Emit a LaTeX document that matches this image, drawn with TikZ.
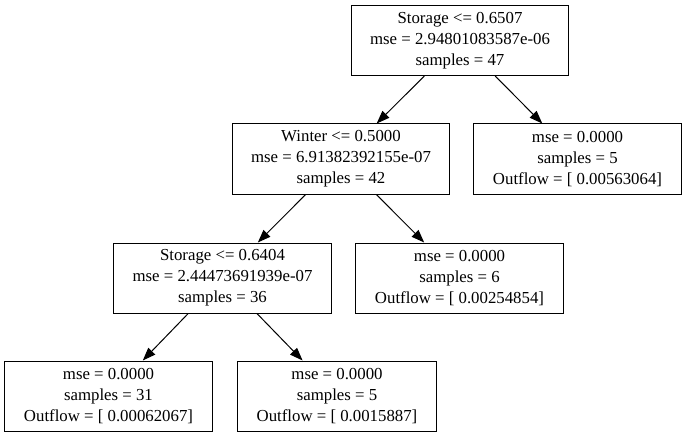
\documentclass[tikz,border=0pt]{standalone}
\usepackage{fontspec}
\setmainfont{Liberation Serif}
\usetikzlibrary{positioning, arrows.meta}

\begin{document}
\begin{tikzpicture}[x=1pt,y=1pt,on grid,line width=1pt,
  >={Triangle[length=13pt,width=9.5pt]},
  box/.style={draw,rectangle,align=center,inner xsep=19pt,inner ysep=2pt,
    minimum height=70pt,font=\fontsize{16.8}{21}\selectfont}]
\useasboundingbox (0,0) rectangle (687,437);

\node[box] (n0) at (460,396.5) {Storage <= 0.6507\\mse = 2.94801083587e-06\\samples = 47};
\node[box] (n1) [below left=118.5pt and 119pt of n0] {Winter <= 0.5000\\mse = 6.91382392155e-07\\samples = 42};
\node[box] (n2) [below right=118.5pt and 117.5pt of n0] {mse = 0.0000\\samples = 5\\Outflow = [ 0.00563064]};
\node[box] (n3) [below left=119pt and 118.5pt of n1] {Storage <= 0.6404\\mse = 2.44473691939e-07\\samples = 36};
\node[box] (n4) [below right=119pt and 118.5pt of n1] {mse = 0.0000\\samples = 6\\Outflow = [ 0.00254854]};
\node[box] (n5) [below left=118pt and 114pt of n3] {mse = 0.0000\\samples = 31\\Outflow = [ 0.00062067]};
\node[box] (n6) [below right=118pt and 114.5pt of n3] {mse = 0.0000\\samples = 5\\Outflow = [ 0.0015887]};

\path[->]
(n0) edge (n1)
     edge (n2)
(n1) edge (n3)
     edge (n4)
(n3) edge (n5)
     edge (n6);
\end{tikzpicture}
\end{document}
